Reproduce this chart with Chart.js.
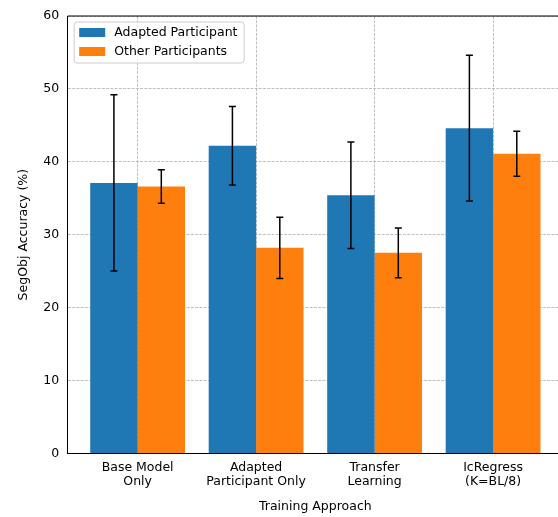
<!DOCTYPE html>
<html>
<head>
<meta charset="utf-8">
<script src="https://cdn.jsdelivr.net/npm/chart.js@4.4.1/dist/chart.umd.min.js"></script>
<style>
  html, body { margin: 0; padding: 0; background: #fff; overflow: hidden; }
  #wrap { position: relative; width: 570px; height: 517px; }
</style>
</head>
<body>
<div id="wrap"><canvas id="c"></canvas></div>
<script>
const categories = [
  ["Base Model", "Only"],
  ["Adapted", "Participant Only"],
  ["Transfer", "Learning"],
  ["IcRegress", "(K=BL/8)"]
];
const seriesNames = ["Adapted Participant", "Other Participants"];
const adaptedValues = [37.1, 42.2, 35.4, 44.6];
const adaptedErrors = [12.1, 5.4, 7.3, 10.0];
const otherValues = [36.6, 28.2, 27.5, 41.1];
const otherErrors = [2.3, 4.2, 3.4, 3.1];
const yTicks = [0, 10, 20, 30, 40, 50, 60];
const xTitle = "Training Approach";
const yTitle = "SegObj Accuracy (%)";

const FONT = "'DejaVu Sans', 'Liberation Sans', sans-serif";
Chart.defaults.font.family = FONT;
Chart.defaults.font.size = 12.5;
Chart.defaults.color = '#000';

const gridDash = [2.96, 1.28];

const errorBarPlugin = {
  id: 'errorBars',
  afterDatasetsDraw(chart) {
    const ctx = chart.ctx;
    const yScale = chart.scales.y;
    ctx.save();
    ctx.strokeStyle = '#000';
    ctx.lineWidth = 1.5;
    chart.data.datasets.forEach((ds, di) => {
      const meta = chart.getDatasetMeta(di);
      meta.data.forEach((bar, i) => {
        const v = ds.data[i].y;
        const e = ds.errors[i];
        const x = bar.x;
        const yTop = yScale.getPixelForValue(v + e);
        const yBot = yScale.getPixelForValue(v - e);
        const cap = 3.5;
        ctx.beginPath();
        ctx.moveTo(x, yTop); ctx.lineTo(x, yBot);
        ctx.moveTo(x - cap, yTop); ctx.lineTo(x + cap, yTop);
        ctx.moveTo(x - cap, yBot); ctx.lineTo(x + cap, yBot);
        ctx.stroke();
      });
    });
    ctx.restore();
  }
};

const framePlugin = {
  id: 'frame',
  afterDraw(chart) {
    const {ctx, chartArea: a} = chart;
    ctx.save();
    ctx.strokeStyle = '#000';
    ctx.lineWidth = 1;
    ctx.beginPath();
    ctx.moveTo(a.left, a.top); ctx.lineTo(a.right, a.top);
    ctx.moveTo(a.right, a.top); ctx.lineTo(a.right, a.bottom);
    ctx.stroke();
    ctx.restore();
  }
};

const legendPlugin = {
  id: 'insideLegend',
  afterDraw(chart) {
    const ctx = chart.ctx;
    const a = chart.chartArea;
    const bx = a.left + 6.5, by = a.top + 6, bw = 170, bh = 41, r = 3;
    ctx.save();
    ctx.beginPath();
    ctx.moveTo(bx + r, by);
    ctx.lineTo(bx + bw - r, by);
    ctx.arcTo(bx + bw, by, bx + bw, by + r, r);
    ctx.lineTo(bx + bw, by + bh - r);
    ctx.arcTo(bx + bw, by + bh, bx + bw - r, by + bh, r);
    ctx.lineTo(bx + r, by + bh);
    ctx.arcTo(bx, by + bh, bx, by + bh - r, r);
    ctx.lineTo(bx, by + r);
    ctx.arcTo(bx, by, bx + r, by, r);
    ctx.closePath();
    ctx.fillStyle = 'rgba(255,255,255,0.8)';
    ctx.fill();
    ctx.strokeStyle = '#cccccc';
    ctx.lineWidth = 1;
    ctx.stroke();
    ctx.font = '12.5px ' + FONT;
    ctx.textBaseline = 'middle';
    ctx.textAlign = 'left';
    chart.data.datasets.forEach((ds, i) => {
      const cy = by + 10.5 + i * 19;
      ctx.fillStyle = ds.backgroundColor;
      ctx.fillRect(bx + 5, cy - 4.5, 26, 9);
      ctx.fillStyle = '#000';
      ctx.fillText(ds.label, bx + 40, cy);
    });
    ctx.restore();
  }
};

new Chart(document.getElementById('c'), {
  type: 'bar',
  data: {
    datasets: [
      {
        label: seriesNames[0],
        data: adaptedValues.map((v, i) => ({x: i, y: v})),
        errors: adaptedErrors,
        backgroundColor: '#1f77b4',
        borderWidth: 0
      },
      {
        label: seriesNames[1],
        data: otherValues.map((v, i) => ({x: i, y: v})),
        errors: otherErrors,
        backgroundColor: '#ff7f0e',
        borderWidth: 0
      }
    ]
  },
  options: {
    responsive: true,
    maintainAspectRatio: false,
    animation: false,
    categoryPercentage: 0.8,
    barPercentage: 1.0,
    layout: { padding: { top: 12, left: 0, right: 7, bottom: 0 } },
    plugins: {
      legend: { display: false },
      tooltip: { enabled: false }
    },
    scales: {
      x: {
        type: 'linear',
        min: -0.59,
        max: categories.length - 1 + 0.59,
        offset: false,
        afterBuildTicks(scale) {
          scale.ticks = categories.map((c, i) => ({ value: i }));
        },
        afterFit(scale) { scale.height = 63.7; },
        ticks: {
          autoSkip: false,
          maxRotation: 0,
          minRotation: 0,
          padding: 7.8,
          color: '#000',
          font: { size: 12.5, lineHeight: 1.1 },
          callback: (value) => categories[value]
        },
        grid: {
          offset: false,
          drawTicks: false,
          color: '#b0b0b0',
          lineWidth: 0.8
        },
        border: { display: true, color: '#000', width: 1, dash: gridDash },
        title: {
          display: true,
          text: xTitle,
          color: '#000',
          font: { size: 12.5, lineHeight: 1.2 },
          padding: { top: 0, bottom: 2.5 }
        }
      },
      y: {
        min: 0,
        max: 60,
        afterBuildTicks(scale) {
          scale.ticks = yTicks.map(v => ({ value: v }));
        },
        afterFit(scale) { scale.width = 67.7; },
        ticks: {
          padding: 8.5,
          color: '#000',
          font: { size: 12.5 }
        },
        grid: {
          drawTicks: false,
          color: '#b0b0b0',
          lineWidth: 0.8
        },
        border: { display: true, color: '#000', width: 1, dash: gridDash },
        title: {
          display: true,
          text: yTitle,
          color: '#000',
          font: { size: 12.5, lineHeight: 1.2 },
          padding: { top: 16.5, bottom: 0 }
        }
      }
    }
  },
  plugins: [errorBarPlugin, framePlugin, legendPlugin]
});
</script>
</body>
</html>
